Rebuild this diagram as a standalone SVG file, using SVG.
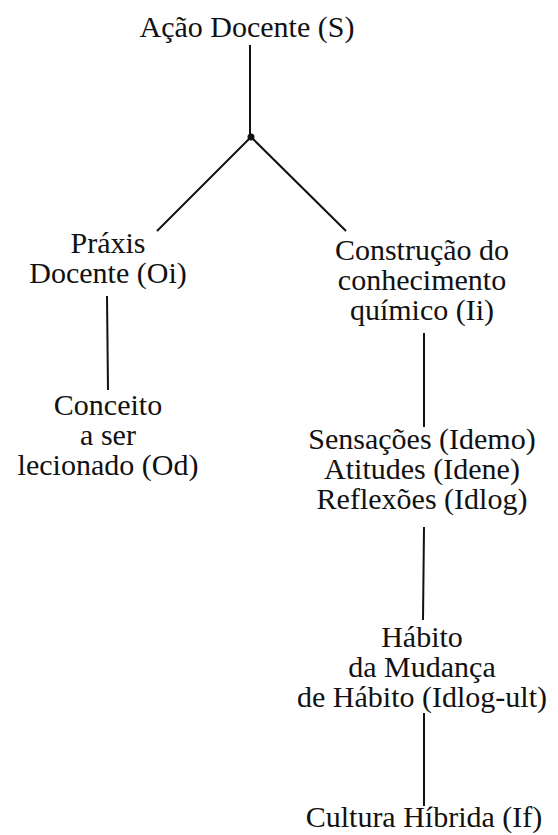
<svg xmlns="http://www.w3.org/2000/svg" width="558" height="835" viewBox="0 0 558 835">
<style>
text{font-family:'Liberation Serif','Times New Roman',serif;font-size:30px;fill:#111;text-anchor:middle}
.c line{stroke:#111;stroke-width:2;stroke-linecap:butt}
</style>
<rect width="558" height="835" fill="#fff"/>
<g class="c" id="connectors">
<line x1="250" y1="45" x2="250" y2="137"/>
<line x1="251" y1="137" x2="157" y2="231"/>
<line x1="251" y1="137" x2="346" y2="231"/>
<circle cx="251" cy="137" r="3.5" fill="#111"/>
<line x1="107" y1="296" x2="108" y2="390"/>
<line x1="424" y1="333" x2="424" y2="427"/>
<line x1="424" y1="527" x2="423" y2="620"/>
<line x1="424" y1="713" x2="424" y2="806"/>
</g>
<g id="n-acao"><text x="247" y="37">Ação Docente (S)</text></g>
<g id="n-praxis"><text x="108" y="253">Práxis</text><text x="108" y="283">Docente (Oi)</text></g>
<g id="n-conceito"><text x="108" y="415">Conceito</text><text x="108" y="445">a ser</text><text x="108" y="475">lecionado (Od)</text></g>
<g id="n-construcao"><text x="422" y="260">Construção do</text><text x="422" y="290">conhecimento</text><text x="422" y="320">químico (Ii)</text></g>
<g id="n-sensacoes"><text x="422" y="449">Sensações (Idemo)</text><text x="422" y="479">Atitudes (Idene)</text><text x="422" y="509">Reflexões (Idlog)</text></g>
<g id="n-habito"><text x="422" y="647">Hábito</text><text x="422" y="677">da Mudança</text><text x="422" y="707">de Hábito (Idlog-ult)</text></g>
<g id="n-cultura"><text x="424" y="827">Cultura Híbrida (If)</text></g>
</svg>
